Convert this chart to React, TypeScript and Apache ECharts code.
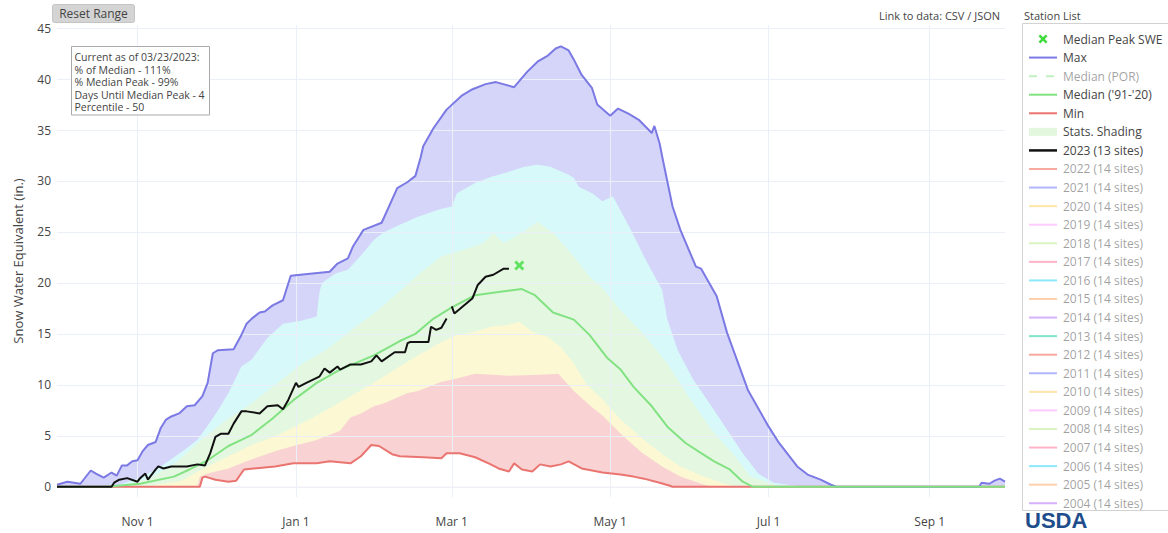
import React, { useEffect, useRef } from 'react';
import * as echarts from 'echarts';

// ---- axis categories (water year, leap-year calendar) ----
const MONTHS = ['Oct', 'Nov', 'Dec', 'Jan', 'Feb', 'Mar', 'Apr', 'May', 'Jun', 'Jul', 'Aug', 'Sep'];
const MONTH_DAYS = [31, 30, 31, 31, 29, 31, 30, 31, 30, 31, 31, 30];
const TICK_LABELS = ['Nov 1', 'Jan 1', 'Mar 1', 'May 1', 'Jul 1', 'Sep 1'];

// ---- data: [day of water year, SWE in.] ----
const maxSeries: [number, number][] = [
  [0, 0.2], [4, 0.5], [9, 0.3], [13, 1.6], [15, 1.3], [18, 0.9], [21, 1.4], [23, 1.1], [25, 2.1], [27, 2.1],
  [29, 2.5], [31, 2.6], [33, 3.5], [35, 4.1], [38, 4.4], [40, 5.8], [42, 6.6], [44, 6.9], [47, 7.2], [50, 7.9],
  [53, 8.0], [56, 8.9], [58, 10.2], [60, 13.1], [62, 13.4], [68, 13.5], [71, 14.9], [73, 16.0], [75, 16.5], [78, 17.1],
  [80, 17.2], [83, 17.8], [87, 18.3], [90, 20.7], [105, 21.1], [108, 21.9], [112, 22.4], [114, 23.6], [118, 25.2], [125, 25.9],
  [131, 29.3], [135, 29.9], [138, 30.5], [140, 32.3], [141, 33.4], [145, 35.2], [150, 37.0], [156, 38.4], [160, 39.0], [165, 39.5],
  [169, 39.7], [176, 39.2], [181, 40.7], [185, 41.7], [189, 42.3], [192, 43.0], [194, 43.2], [197, 42.8], [199, 41.9], [202, 40.4],
  [206, 39.1], [208, 37.5], [213, 36.4], [216, 37.1], [220, 36.6], [224, 36.0], [229, 34.7], [230, 35.4], [232, 33.7], [233, 32.4],
  [237, 27.5], [240, 25.2], [246, 21.6], [248, 21.4], [254, 18.7], [258, 15.1], [266, 9.5], [274, 5.9], [278, 4.3], [285, 2.0],
  [289, 1.2], [294, 0.7], [298, 0.2], [300, 0], [355, 0], [356, 0.4], [359, 0.3], [361, 0.6], [363, 0.8], [365, 0.5],
];

const p90Series: [number, number][] = [
  [0, 0], [17, 0], [24, 0.2], [32, 0.9], [40, 2.0], [49, 3.6], [54, 4.6], [58, 6.0], [62, 7.5], [66, 9.2],
  [71, 11.8], [75, 12.5], [81, 14.6], [87, 16.0], [94, 16.3], [100, 16.7], [101, 19.0], [102, 20.0], [107, 20.9], [112, 21.3],
  [117, 22.7], [122, 24.2], [126, 25.0], [132, 25.7], [139, 26.5], [147, 27.2], [152, 27.5], [154, 28.8], [161, 29.8], [167, 30.4],
  [174, 30.9], [180, 31.4], [185, 31.6], [190, 31.4], [197, 30.6], [199, 30.3], [201, 29.4], [206, 28.8], [210, 28.0], [214, 28.5],
  [221, 25.2], [226, 22.6], [233, 19.3], [235, 16.4], [239, 13.4], [245, 10.5], [252, 7.9], [258, 5.6], [264, 3.3], [270, 1.3],
  [276, 0.4], [287, 0], [365, 0],
];

const p70Series: [number, number][] = [
  [0, 0], [21, 0], [28, 0.3], [36, 0.9], [46, 2.4], [55, 4.5], [65, 6.5], [75, 8.2], [84, 10.0], [94, 12.0],
  [104, 13.5], [113, 15.3], [123, 17.2], [132, 19.2], [140, 21.0], [148, 22.6], [156, 23.2], [164, 23.9], [168, 24.9], [172, 23.9],
  [179, 24.9], [185, 26.0], [191, 24.9], [199, 22.6], [205, 20.6], [210, 19.5], [217, 17.3], [225, 15.2], [235, 12.1], [243, 8.9],
  [252, 5.6], [261, 3.0], [267, 1.0], [274, 0.4], [279, 0], [365, 0],
];

const medianSeries: [number, number][] = [
  [0, 0], [19, 0], [32, 0.3], [45, 1.0], [51, 1.7], [58, 2.6], [66, 4.0], [71, 4.6], [75, 5.1], [83, 6.7],
  [91, 8.5], [100, 10.2], [109, 11.5], [122, 12.9], [132, 14.3], [138, 15.0], [145, 16.5], [152, 17.6], [161, 18.8], [170, 19.1],
  [179, 19.4], [184, 18.8], [191, 17.1], [199, 16.4], [205, 14.9], [212, 12.6], [217, 11.5], [222, 9.8], [229, 7.9], [235, 5.9],
  [242, 4.3], [248, 3.3], [253, 2.5], [259, 1.7], [264, 0.5], [268, 0], [365, 0],
];

const p30Series: [number, number][] = [
  [0, 0], [24, 0], [36, 0.1], [48, 0.6], [55, 1.6], [66, 3.0], [75, 4.1], [86, 5.2], [98, 6.7], [109, 8.3],
  [122, 10.2], [135, 12.3], [148, 14.2], [154, 14.9], [161, 15.2], [167, 15.7], [174, 15.9], [178, 16.2], [183, 15.2], [189, 14.7],
  [194, 13.7], [199, 12.1], [204, 10.0], [210, 8.6], [217, 6.6], [225, 4.8], [233, 3.2], [240, 2.0], [248, 1.1], [256, 0.4],
  [262, 0], [365, 0],
];

const p10Series: [number, number][] = [
  [0, 0], [54, 0], [55, 1.0], [58, 1.3], [66, 1.8], [74, 2.6], [84, 3.5], [91, 4.0], [100, 4.6], [109, 5.5],
  [113, 6.8], [117, 7.2], [122, 7.9], [126, 8.2], [135, 9.2], [139, 9.4], [148, 10.3], [152, 10.5], [161, 11.1], [174, 10.9],
  [186, 11.0], [193, 11.1], [199, 9.4], [206, 7.8], [210, 7.0], [217, 5.2], [225, 3.4], [233, 2.0], [240, 1.0], [248, 0.3],
  [252, 0], [365, 0],
];

const minSeries: [number, number][] = [
  [0, 0], [55, 0], [56, 0.9], [57, 1.0], [61, 0.7], [66, 0.5], [69, 0.6], [72, 1.7], [84, 2.0], [91, 2.3],
  [100, 2.3], [105, 2.5], [113, 2.3], [117, 3.0], [121, 4.1], [124, 4.0], [129, 3.2], [132, 3.0], [141, 2.9], [148, 2.8],
  [150, 3.3], [155, 3.3], [161, 2.9], [167, 2.2], [170, 1.8], [174, 1.5], [176, 2.3], [179, 1.7], [183, 1.5], [186, 2.2],
  [190, 2.0], [194, 2.2], [197, 2.5], [202, 1.8], [210, 1.4], [217, 1.2], [222, 1.0], [226, 0.8], [232, 0.4], [236, 0.1],
  [237, 0], [365, 0],
];

const wy2023Series: [number, number | null][] = [
  [0, 0], [21, 0], [22, 0.4], [24, 0.7], [27, 0.85], [31, 0.5], [32, 0.85], [34, 1.3], [35, 0.7], [38, 1.7],
  [39, 2.0], [41, 1.8], [44, 2.0], [50, 2.0], [54, 2.2], [57, 2.1], [59, 3.3], [61, 4.9], [63, 5.2], [66, 5.2],
  [68, 6.2], [71, 7.4], [73, 7.4], [78, 7.2], [81, 7.9], [85, 8.0], [87, 7.6], [89, 8.5], [92, 10.2], [93, 9.8],
  [96, 10.2], [101, 10.8], [103, 11.6], [105, 11.2], [108, 11.8], [109, 11.5], [113, 12.0], [117, 12.0], [121, 12.3], [123, 12.9],
  [125, 12.3], [130, 13.2], [134, 13.2], [135, 14.1], [136, 14.2], [143, 14.2], [144, 15.7], [146, 15.4], [148, 15.6], [150, 16.5],
  [151, null], [152, 17.7], [153, 17.0], [160, 18.5], [162, 19.8], [165, 20.6], [168, 20.8], [172, 21.4], [174, 21.4],
];

const medianPeak: [number, number][] = [[178, 21.7]];

const annotationLines = [
  'Current as of 03/23/2023:',
  '% of Median - 111%',
  '% Median Peak - 99%',
  'Days Until Median Peak - 4',
  'Percentile - 50',
];

const legendMain = ['Median Peak SWE', 'Max', 'Median (POR)', "Median ('91-'20)", 'Min', 'Stats. Shading', '2023 (13 sites)'];
const historicYears = ['2022', '2021', '2020', '2019', '2018', '2017', '2016', '2015', '2014', '2013',
  '2012', '2011', '2010', '2009', '2008', '2007', '2006', '2005', '2004'];
const historicColors = ['#EF553B', '#636efa', '#FECB52', '#FF97FF', '#B6E880', '#FF6692', '#19d3f3', '#FFA15A', '#ab63fa', '#00cc96',
  '#EF553B', '#636efa', '#FECB52', '#FF97FF', '#B6E880', '#FF6692', '#19d3f3', '#FFA15A', '#ab63fa'];

const FONT = "'Open Sans', 'DejaVu Sans', sans-serif";
const C_MAX = '#7b79e3';
const C_MED = '#82e282';
const C_MIN = '#ea7470';
const X_PATH = 'path://M2,0 L5,3 L8,0 L10,2 L7,5 L10,8 L8,10 L5,7 L2,10 L0,8 L3,5 L0,2 Z';

function buildCategories(): string[] {
  const cats: string[] = [];
  MONTHS.forEach((m, i) => {
    for (let d = 1; d <= MONTH_DAYS[i]; d++) cats.push(`${m} ${d}`);
  });
  return cats;
}

function toData(arr: [number, number | null][]) {
  return arr.map(([d, v]) => [d, v === null ? '-' : v]);
}

function txt(x: number, y: number, text: string, opts: any = {}) {
  const align = opts.align || 'left';
  const vAlign = opts.verticalAlign || 'middle';
  return {
    type: 'text', x, y, z: 100,
    style: {
      text, fontSize: opts.fontSize || 12, fontFamily: opts.fontFamily || FONT, fontWeight: opts.fontWeight || 'normal',
      fill: opts.fill || '#444', opacity: opts.opacity ?? 1,
      align, textAlign: align, verticalAlign: vAlign, textVerticalAlign: vAlign,
    },
  };
}

function xMarker(cx: number, cy: number, s: number, color: string) {
  const base = [[2, 0], [5, 3], [8, 0], [10, 2], [7, 5], [10, 8], [8, 10], [5, 7], [2, 10], [0, 8], [3, 5], [0, 2]];
  const k = s / 10;
  return {
    type: 'polygon', z: 100,
    shape: { points: base.map(([px, py]) => [cx - s / 2 + px * k, cy - s / 2 + py * k]) },
    style: { fill: color },
  };
}

function buildLegend() {
  const els: any[] = [];
  const X0 = 1029, X1 = 1057, TX = 1063, Y0 = 39, DY = 18.57;
  els.push({ type: 'rect', z: 99, shape: { x: 1022.5, y: 23.5, width: 175, height: 487 }, style: { fill: '#fff', stroke: '#d2d2d2', lineWidth: 1 } });
  const lineEl = (y: number, stroke: string, lineWidth: number, opacity = 1, lineDash?: number[]) => ({
    type: 'line', z: 100, shape: { x1: X0, y1: y, x2: X1, y2: y },
    style: { stroke, lineWidth, opacity, lineDash },
  });
  legendMain.forEach((label, i) => {
    const y = Y0 + i * DY;
    const faded = label === 'Median (POR)';
    if (i === 0) els.push(xMarker(1043, y, 9, '#3ddc3d'));
    if (i === 1) els.push(lineEl(y, C_MAX, 2));
    if (i === 2) els.push(lineEl(y, C_MED, 2, 0.5, [8, 9]));
    if (i === 3) els.push(lineEl(y, C_MED, 2));
    if (i === 4) els.push(lineEl(y, C_MIN, 2));
    if (i === 5) els.push(lineEl(y, '#e2f7de', 8));
    if (i === 6) els.push(lineEl(y, '#111', 2.5));
    els.push(txt(TX, y, label, { fontSize: 12, opacity: faded ? 0.5 : 1 }));
  });
  historicYears.forEach((yr, j) => {
    const y = Y0 + (legendMain.length + j) * DY;
    els.push(lineEl(y, historicColors[j], 2, 0.5));
    els.push(txt(TX, y, `${yr} (14 sites)`, { fontSize: 12, opacity: 0.5 }));
  });
  return els;
}

export default function App() {
  const ref = useRef<HTMLDivElement>(null);

  useEffect(() => {
    if (!ref.current) return;
    const chart = echarts.init(ref.current, undefined, { renderer: 'svg' });
    const categories = buildCategories();
    const tickSet = new Set(TICK_LABELS);

    const fill = (name: string, data: [number, number][], color: string) => ({
      type: 'line', name, data: toData(data), symbol: 'none', silent: true, z: 1,
      lineStyle: { width: 0, opacity: 0 },
      areaStyle: { color, opacity: 1 },
    });
    const line = (name: string, data: [number, number | null][], color: string, width = 2) => ({
      type: 'line', name, data: toData(data), symbol: 'none', silent: true, z: 5,
      connectNulls: false,
      lineStyle: { color, width },
    });

    const graphicEls: any[] = [
      // Reset Range button
      { type: 'rect', z: 100, shape: { x: 52.5, y: 4.5, width: 82, height: 18, r: 2 }, style: { fill: '#d4d4d4', stroke: '#c4c4c4', lineWidth: 1 } },
      txt(93.5, 13.5, 'Reset Range', { align: 'center', fontSize: 12 }),
      // annotation box
      { type: 'rect', z: 100, shape: { x: 71.5, y: 46.5, width: 138, height: 68.5 }, style: { fill: '#fff', stroke: '#a9a9a9', lineWidth: 1 } },
      ...annotationLines.map((t, i) => txt(74.5, 57.3 + i * 12.5, t, { fontSize: 10.5 })),
      // header texts
      txt(1000, 15, 'Link to data: CSV / JSON', { align: 'right', fontSize: 11 }),
      txt(1024, 15.5, 'Station List', { fontSize: 11 }),
      ...buildLegend(),
      txt(1025, 531, 'USDA', {
        fontSize: 22, fontWeight: 'bold', fontFamily: "'Liberation Sans', Arial, sans-serif",
        fill: '#1f4d8c', verticalAlign: 'bottom',
      }),
    ];

    chart.setOption({
      animation: false,
      textStyle: { fontFamily: FONT },
      grid: { left: 57, right: 163, top: 25, bottom: 36, containLabel: false },
      xAxis: {
        type: 'category',
        data: categories,
        boundaryGap: false,
        z: 3,
        axisLine: { show: false },
        axisTick: { show: false },
        axisLabel: {
          interval: (_i: number, v: string) => tickSet.has(v),
          color: '#444', fontSize: 12, fontFamily: FONT, margin: 18,
        },
        splitLine: {
          show: true,
          interval: (_i: number, v: string) => tickSet.has(v),
          lineStyle: { color: '#ebf0f8', width: 1 },
        },
      },
      yAxis: {
        type: 'value',
        min: -1,
        max: 45.3,
        minInterval: 5,
        maxInterval: 5,
        z: 3,
        name: 'Snow Water Equivalent (in.)',
        nameLocation: 'middle',
        nameGap: 33,
        nameRotate: 90,
        nameTextStyle: { color: '#444', fontSize: 13, fontFamily: FONT },
        axisLine: { show: false },
        axisTick: { show: false },
        axisLabel: {
          color: '#444', fontSize: 12, fontFamily: FONT, margin: 6,
          showMinLabel: false, showMaxLabel: false,
          formatter: (v: number) => (v >= 0 && v <= 45 && Math.abs(v % 5) < 1e-9 ? String(v) : ''),
        },
        splitLine: { show: true, showMinLine: false, showMaxLine: false, lineStyle: { color: '#ebf0f8', width: 1 } },
      },
      series: [
        fill('Max fill', maxSeries, '#d5d5fa'),
        fill('90th fill', p90Series, '#d7f9f9'),
        fill('70th fill', p70Series, '#e4f8e1'),
        fill('30th fill', p30Series, '#fbf8d3'),
        fill('10th fill', p10Series, '#f9d3d3'),
        fill('Min fill', minSeries, '#ffffff'),
        line('Min', minSeries, C_MIN),
        line('Max', maxSeries, C_MAX),
        line("Median ('91-'20)", medianSeries, C_MED),
        line('2023 (13 sites)', wy2023Series, '#111111', 2),
        {
          type: 'scatter', name: 'Median Peak SWE', data: medianPeak, symbol: X_PATH, symbolSize: 10, z: 6,
          silent: true, itemStyle: { color: '#3ddc3d' },
        },
      ],
      graphic: { elements: graphicEls },
    });

    return () => chart.dispose();
  }, []);

  return (
    <div
      ref={ref}
      style={{ position: 'fixed', left: 0, top: 0, width: 1168, height: 533, background: '#fff' }}
    />
  );
}
